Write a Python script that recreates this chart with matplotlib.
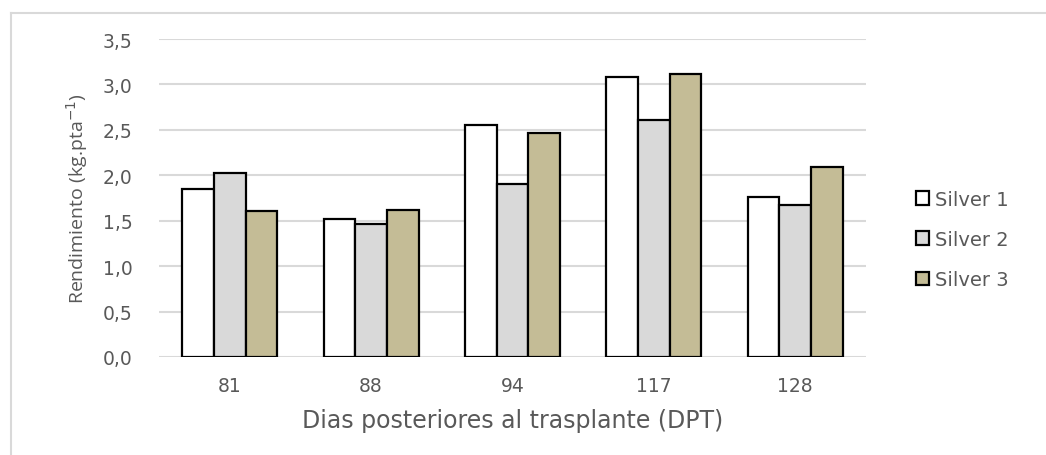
import matplotlib.pyplot as plt
import numpy as np
from matplotlib.patches import Patch
from matplotlib.lines import Line2D

# data
dias = ["81", "88", "94", "117", "128"]
silver_1 = [1.85, 1.52, 2.55, 3.08, 1.76]
silver_2 = [2.03, 1.46, 1.90, 2.61, 1.67]
silver_3 = [1.61, 1.62, 2.46, 3.11, 2.09]
series_names = ["Silver 1", "Silver 2", "Silver 3"]
y_ticks = [0.0, 0.5, 1.0, 1.5, 2.0, 2.5, 3.0, 3.5]

colors = ["#ffffff", "#d9d9d9", "#c4bc96"]
text_gray = "#595959"
grid_gray = "#d9d9d9"

plt.rcParams['font.family'] = ['DejaVu Sans']

fig = plt.figure(figsize=(10.46, 4.56), dpi=100)
ax = fig.add_axes([159 / 1046, 98 / 456, 707 / 1046, 318 / 456])

x = np.arange(len(dias))
w = 0.224
for i, vals in enumerate([silver_1, silver_2, silver_3]):
    ax.bar(x + (i - 1) * w, vals, w, color=colors[i], edgecolor="black",
           linewidth=1.6, zorder=3, label=series_names[i])

ax.set_xlim(-0.5, len(dias) - 0.5)
ax.set_ylim(0, 3.5)
ax.set_yticks(y_ticks)
ax.set_yticklabels([f"{t:.1f}".replace(".", ",") for t in y_ticks])
ax.set_xticks(x)
ax.set_xticklabels(dias)
ax.tick_params(length=0, labelsize=13.5, colors=text_gray)
ax.tick_params(axis="y", pad=19)
ax.tick_params(axis="x", pad=14)

ax.grid(axis="y", color=grid_gray, linewidth=1.5, zorder=0)
for s in ax.spines.values():
    s.set_visible(False)

ax.set_xlabel("Dias posteriores al trasplante (DPT)", fontsize=17,
              color=text_gray, labelpad=9)
ax.set_ylabel("Rendimiento (kg.pta$^{-1}$)", fontsize=14, color=text_gray,
              labelpad=9, family="Open Sans")

handles = [Patch(facecolor=colors[i], edgecolor="black", linewidth=1.6)
           for i in range(3)]
fig.legend(handles, series_names, loc="upper left",
           bbox_to_anchor=(902 / 1046, 1 - 177 / 456), frameon=False,
           fontsize=14, labelcolor=text_gray, handlelength=0.7,
           handleheight=0.7, handletextpad=0.3, labelspacing=1.1,
           borderpad=0.2)

# outer chart border (top and left edges visible)
fig.add_artist(Line2D([11 / 1046, 1.0], [1 - 14 / 456, 1 - 14 / 456],
                      transform=fig.transFigure, color=grid_gray, linewidth=1.5))
fig.add_artist(Line2D([11 / 1046, 11 / 1046], [0.0, 1 - 14 / 456],
                      transform=fig.transFigure, color=grid_gray, linewidth=1.5))

fig.savefig("out.png", dpi=100)
